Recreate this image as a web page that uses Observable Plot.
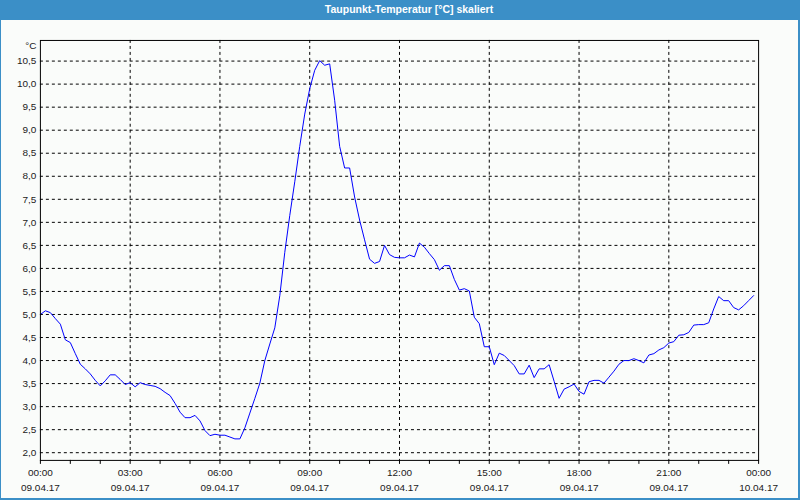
<!DOCTYPE html>
<html>
<head>
<meta charset="utf-8">
<script src="https://cdn.jsdelivr.net/npm/d3@7"></script>
<script src="https://cdn.jsdelivr.net/npm/@observablehq/plot@0.6"></script>
<style>
  html, body { margin: 0; padding: 0; background: #fafcfa; }
  #wrap { position: relative; width: 800px; height: 500px; box-sizing: border-box;
          border-left: 1px solid #3b8fc7; border-right: 2px solid #3b8fc7; border-bottom: 2px solid #3b8fc7;
          background: #fafcfa; overflow: hidden; }
  #title { position: absolute; left: -1px; top: 0; width: 800px; height: 20px; box-sizing: border-box;
           padding-left: 18px; background: #3b8fc7; color: #fff; text-align: center;
           font: bold 10.5px "Liberation Sans", sans-serif; line-height: 19px; }
  #chart { position: absolute; left: -1px; top: 20px; }
</style>
</head>
<body>
<div id="wrap">
  <div id="title">Taupunkt-Temperatur [°C] skaliert</div>
  <div id="chart"></div>
</div>
<script>
// ---- data ----
const title = "Taupunkt-Temperatur [°C] skaliert";
const unitLabel = "°C";
const day = "2017-04-09";
const times = [
  "00:00","00:10","00:20","00:30","00:40","00:50","01:00","01:10","01:20","01:30","01:40","01:50",
  "02:00","02:10","02:20","02:30","02:40","02:50","03:00","03:10","03:20","03:30","03:40","03:50",
  "04:00","04:10","04:20","04:30","04:40","04:50","05:00","05:10","05:20","05:30","05:40","05:50",
  "06:00","06:10","06:20","06:30","06:40","06:50","07:00","07:10","07:20","07:30","07:40","07:50",
  "08:00","08:10","08:20","08:30","08:40","08:50","09:00","09:10","09:20","09:30","09:40","09:50",
  "10:00","10:10","10:20","10:30","10:40","10:50","11:00","11:10","11:20","11:30","11:40","11:50",
  "12:00","12:10","12:20","12:30","12:40","12:50","13:00","13:10","13:20","13:30","13:40","13:50",
  "14:00","14:10","14:20","14:30","14:40","14:50","15:00","15:10","15:20","15:30","15:40","15:50",
  "16:00","16:10","16:20","16:30","16:40","16:50","17:00","17:10","17:20","17:30","17:40","17:50",
  "18:00","18:10","18:20","18:30","18:40","18:50","19:00","19:10","19:20","19:30","19:40","19:50",
  "20:00","20:10","20:20","20:30","20:40","20:50","21:00","21:10","21:20","21:30","21:40","21:50",
  "22:00","22:10","22:20","22:30","22:40","22:50","23:00","23:10","23:20","23:30","23:40","23:50"
];
const dewPoint = [
  5.00, 5.08, 5.04, 4.91, 4.79, 4.45, 4.39, 4.15, 3.92, 3.82, 3.71, 3.57,
  3.45, 3.56, 3.69, 3.69, 3.59, 3.48, 3.52, 3.43, 3.52, 3.48, 3.46, 3.44,
  3.39, 3.31, 3.24, 3.07, 2.88, 2.76, 2.76, 2.81, 2.69, 2.48, 2.37, 2.40,
  2.38, 2.38, 2.34, 2.30, 2.30, 2.54, 2.86, 3.18, 3.51, 4.00, 4.36, 4.71,
  5.41, 6.35, 7.15, 7.88, 8.65, 9.35, 9.90, 10.30, 10.51, 10.41, 10.44, 9.65,
  8.65, 8.18, 8.18, 7.55, 7.05, 6.62, 6.20, 6.11, 6.15, 6.50, 6.30, 6.24,
  6.23, 6.23, 6.29, 6.25, 6.55, 6.46, 6.32, 6.19, 5.96, 6.06, 6.06, 5.76,
  5.53, 5.56, 5.51, 4.94, 4.80, 4.30, 4.30, 3.91, 4.16, 4.11, 4.00, 3.89,
  3.71, 3.71, 3.90, 3.63, 3.82, 3.82, 3.91, 3.55, 3.18, 3.38, 3.43, 3.49,
  3.33, 3.27, 3.54, 3.57, 3.57, 3.51, 3.64, 3.77, 3.92, 4.00, 4.00, 4.04,
  4.00, 3.95, 4.12, 4.15, 4.23, 4.28, 4.38, 4.41, 4.55, 4.56, 4.61, 4.77,
  4.78, 4.78, 4.82, 5.12, 5.39, 5.30, 5.30, 5.15, 5.10, 5.19, 5.30, 5.41
];
const yTicks = [2.0, 2.5, 3.0, 3.5, 4.0, 4.5, 5.0, 5.5, 6.0, 6.5, 7.0, 7.5, 8.0, 8.5, 9.0, 9.5, 10.0, 10.5];
const yDomain = [1.833, 10.948];
const xMajorTicks = ["2017-04-09T00:00","2017-04-09T03:00","2017-04-09T06:00","2017-04-09T09:00","2017-04-09T12:00",
                     "2017-04-09T15:00","2017-04-09T18:00","2017-04-09T21:00","2017-04-10T00:00"];
const xDomain = ["2017-04-09T00:00", "2017-04-10T00:00"];

// ---- build ----
const parse = s => new Date(s + ":00Z");
const data = times.map((t, i) => ({time: parse(day + "T" + t), value: dewPoint[i]}));
const majors = xMajorTicks.map(parse);
const hourTicks = d3.utcHour.range(parse(xDomain[0]), new Date(+parse(xDomain[1]) + 1));
const innerGridX = majors.slice(1, -1);
const fmtTime = d3.utcFormat("%H:%M");
const fmtDate = d3.utcFormat("%d.%m.%y");
const fmtY = d => d.toFixed(1).replace(".", ",");

const chart = Plot.plot({
  width: 800,
  height: 480,
  marginLeft: 40,
  marginRight: 40,
  marginTop: 20,
  marginBottom: 39,
  style: {background: "transparent", fontFamily: "'Liberation Sans', sans-serif", fontSize: "10px", color: "#1a1a1a"},
  x: {type: "utc", domain: xDomain.map(parse)},
  y: {domain: yDomain},
  marks: [
    Plot.gridY(yTicks, {stroke: "#000", strokeOpacity: 1, strokeDasharray: "3,3"}),
    Plot.gridX(innerGridX, {stroke: "#000", strokeOpacity: 1, strokeDasharray: "3,3"}),
    Plot.line(data, {x: "time", y: "value", stroke: "#0000ff", strokeWidth: 1}),
    Plot.frame({stroke: "#000", strokeWidth: 1}),
    Plot.axisY(yTicks, {tickSize: 0, tickPadding: 4, tickFormat: fmtY, label: null, fill: "#1a1a1a"}),
    Plot.text([unitLabel], {frameAnchor: "top-left", textAnchor: "end", lineAnchor: "middle", dx: -4, dy: 5, fill: "#1a1a1a"}),
    Plot.axisX(hourTicks, {tickSize: 4, tickFormat: () => "", label: null, stroke: "#000"}),
    Plot.axisX(majors, {tickSize: 0, tickPadding: 9, tickFormat: fmtTime, label: null, fill: "#1a1a1a"}),
    Plot.axisX(majors, {tickSize: 0, tickPadding: 24, tickFormat: fmtDate, label: null, fill: "#1a1a1a"})
  ]
});
document.getElementById("chart").append(chart);
</script>
</body>
</html>
